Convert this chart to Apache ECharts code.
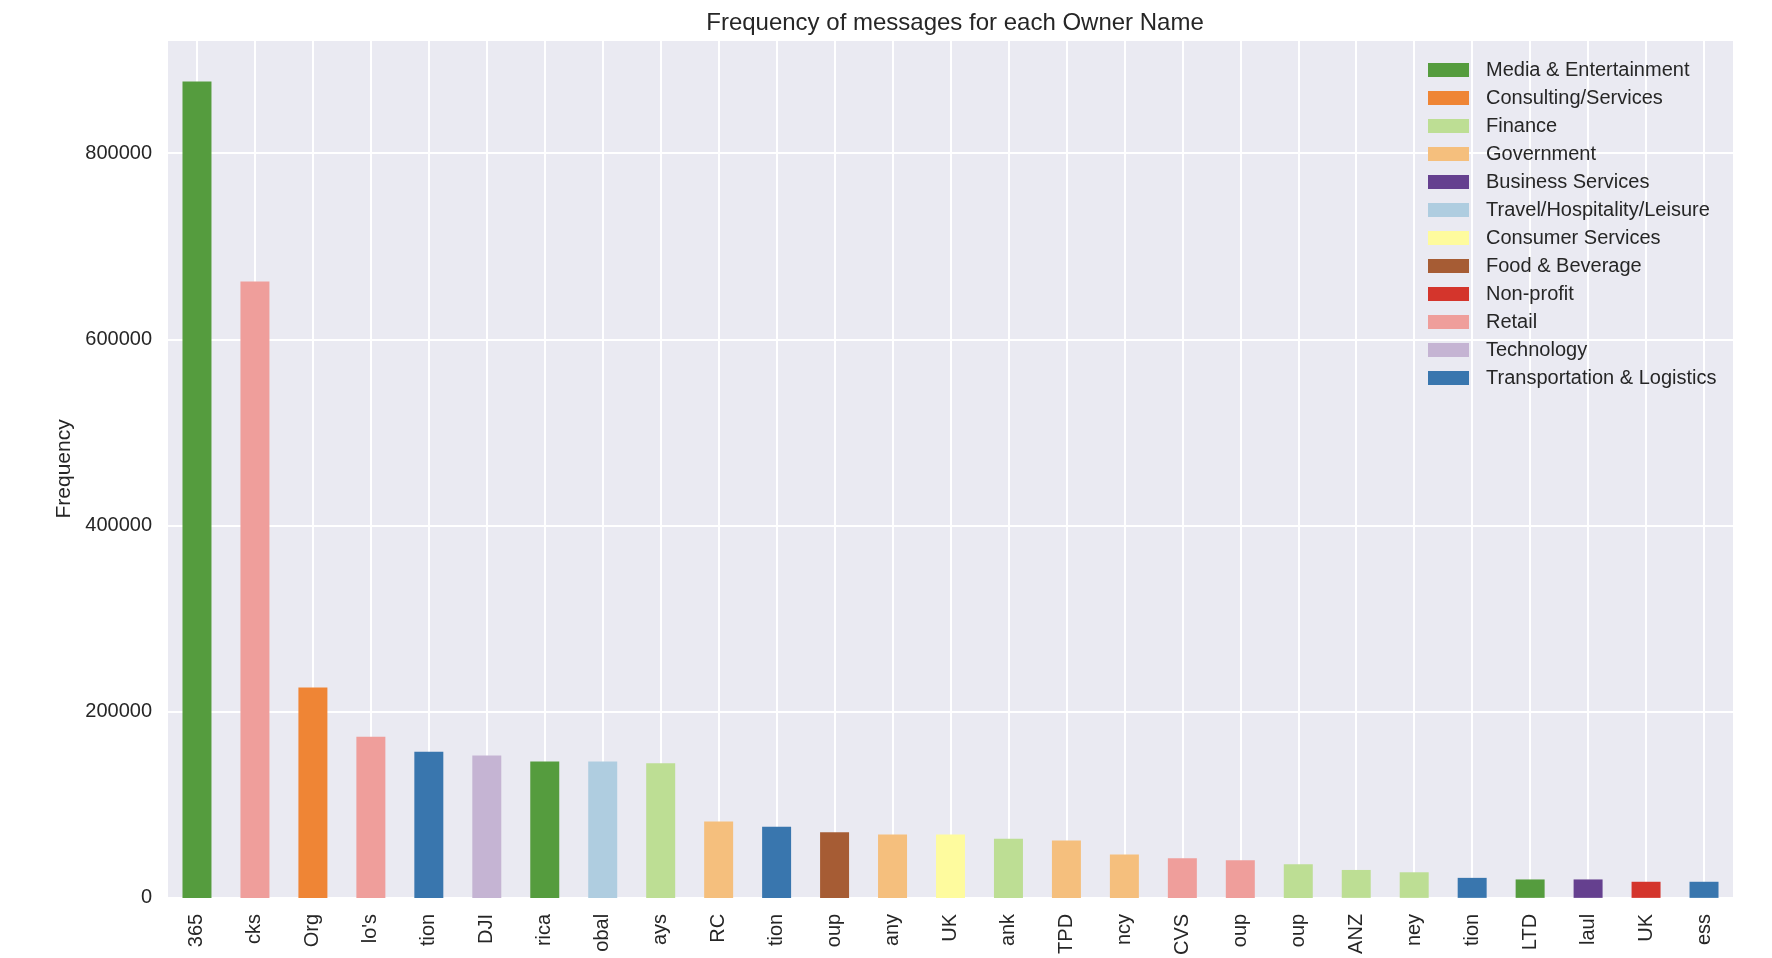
<!DOCTYPE html>
<html>
<head>
<meta charset="utf-8">
<script src="https://cdn.jsdelivr.net/npm/echarts@6/dist/echarts.min.js"></script>
<style>
html,body{margin:0;padding:0;background:#fff;}
#chart{width:1772px;height:958px;}
</style>
</head>
<body>
<div id="chart"></div>
<script>
const categories = ['365','cks','Org',"lo's",'tion','DJI','rica','obal','ays','RC','tion','oup','any','UK','ank','TPD','ncy','CVS','oup','oup','ANZ','ney','tion','LTD','laul','UK','ess'];
const values = [877000,662000,226000,173000,157000,153000,146500,146500,144500,82000,76500,70500,68000,68000,63500,61500,46500,42500,40500,36000,30000,27500,21500,19800,19800,17300,17300];
const barSectors = ['Media & Entertainment','Retail','Consulting/Services','Retail','Transportation & Logistics','Technology','Media & Entertainment','Travel/Hospitality/Leisure','Finance','Government','Transportation & Logistics','Food & Beverage','Government','Consumer Services','Finance','Government','Government','Retail','Retail','Finance','Finance','Finance','Transportation & Logistics','Media & Entertainment','Business Services','Non-profit','Transportation & Logistics'];
const sectors = ['Media & Entertainment','Consulting/Services','Finance','Government','Business Services','Travel/Hospitality/Leisure','Consumer Services','Food & Beverage','Non-profit','Retail','Technology','Transportation & Logistics'];
const sectorColors = ['#559C3E','#EF8535','#BDDE94','#F5BF7D','#65408F','#AFCDE0','#FEFB9E','#A65C34','#D4352C','#EF9E9B','#C5B4D3','#3976AE'];
const yTicks = [0,200000,400000,600000,800000];

const FONT = '"Liberation Sans", Arial, sans-serif';
const TXT = '#262626';

const series = sectors.map((s, i) => ({
  name: s,
  type: 'bar',
  stack: 'all',
  barWidth: '50%',
  itemStyle: {color: sectorColors[i]},
  data: values.map((v, j) => barSectors[j] === s ? v : '-')
}));

const chart = echarts.init(document.getElementById('chart'));
chart.setOption({
  animation: false,
  textStyle: {fontFamily: FONT},
  title: {
    text: 'Frequency of messages for each Owner Name',
    left: 950, textAlign: 'center', top: 6,
    textStyle: {fontFamily: FONT, fontSize: 24, fontWeight: 'normal', color: TXT}
  },
  grid: {left: 168, right: 39, top: 40, bottom: 48, show: true, backgroundColor: '#EAEAF2', borderWidth: 0},
  legend: {
    orient: 'vertical',
    left: 1423, top: 55,
    itemWidth: 41, itemHeight: 14, itemGap: 8,
    icon: 'rect',
    data: sectors,
    textStyle: {fontFamily: FONT, fontSize: 20, color: TXT, lineHeight: 20, padding: [0,0,0,12]}
  },
  xAxis: {
    type: 'category',
    data: categories,
    axisLine: {show: false},
    axisTick: {show: false, alignWithLabel: true},
    splitLine: {show: true, alignWithLabel: true, lineStyle: {color: '#ffffff', width: 2}},
    axisLabel: {rotate: 90, margin: 16, fontFamily: FONT, fontSize: 20, color: TXT, interval: 0}
  },
  yAxis: {
    type: 'value',
    min: 0, max: 921500, interval: 200000,
    name: 'Frequency', nameLocation: 'middle', nameGap: 89,
    nameTextStyle: {fontFamily: FONT, fontSize: 21, color: TXT},
    axisLine: {show: false}, axisTick: {show: false},
    splitLine: {lineStyle: {color: '#ffffff', width: 2}},
    axisLabel: {
      margin: 16, fontFamily: FONT, fontSize: 20, color: TXT, showMaxLabel: false,
      formatter: v => yTicks.includes(v) ? String(v) : ''
    }
  },
  series: series
});
</script>
</body>
</html>
